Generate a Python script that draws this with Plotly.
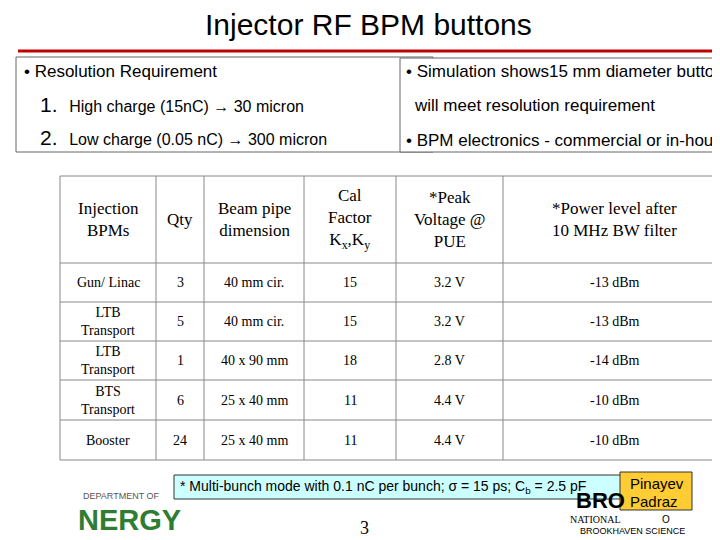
import plotly.graph_objects as go

headers = ["Injection<br>BPMs", "Qty", "Beam pipe<br>dimension", "Cal<br>Factor<br>K<sub>x</sub>,K<sub>y</sub>",
           "*Peak<br>Voltage @<br>PUE", "*Power level after<br>10 MHz BW filter"]
bpms = ["Gun/ Linac", "LTB<br>Transport", "LTB<br>Transport", "BTS<br>Transport", "Booster"]
qty = ["3", "5", "1", "6", "24"]
pipe = ["40 mm cir.", "40 mm cir.", "40 x 90 mm", "25 x 40 mm", "25 x 40 mm"]
cal = ["15", "15", "18", "11", "11"]
peak = ["3.2 V", "3.2 V", "2.8 V", "4.4 V", "4.4 V"]
power = ["-13 dBm", "-13 dBm", "-14 dBm", "-10 dBm", "-10 dBm"]

W, H = 720, 540
OFF = 8
def px(x): return x / W
def py(y): return 1 - (y - OFF) / H

colx = [52, 148, 196, 296, 388, 495, 718]
rowy = [176, 263, 302, 341, 380, 420, 460]
columns = [bpms, qty, pipe, cal, peak, power]

shapes = [
    dict(type="line", xref="paper", yref="paper", x0=px(10), x1=px(712), y0=py(51), y1=py(51),
         line=dict(color="#c00000", width=3)),
    dict(type="rect", xref="paper", yref="paper", x0=px(8), x1=px(425), y0=py(152), y1=py(57),
         line=dict(color="#666", width=1), fillcolor="white"),
    dict(type="rect", xref="paper", yref="paper", x0=px(392), x1=px(730), y0=py(152), y1=py(58),
         line=dict(color="#666", width=1), fillcolor="white"),
    dict(type="rect", xref="paper", yref="paper", x0=px(166), x1=px(614), y0=py(499), y1=py(475),
         line=dict(color="#333", width=1), fillcolor="#ccffff"),
    dict(type="rect", xref="paper", yref="paper", x0=px(612), x1=px(684), y0=py(510), y1=py(472),
         line=dict(color="#333", width=1), fillcolor="#ffcc33"),
]
for x in colx:
    shapes.append(dict(type="line", xref="paper", yref="paper", x0=px(x), x1=px(x),
                       y0=py(rowy[0]), y1=py(rowy[-1]), line=dict(color="#888", width=1)))
for y in rowy:
    shapes.append(dict(type="line", xref="paper", yref="paper", x0=px(colx[0]), x1=px(colx[-1]),
                       y0=py(y), y1=py(y), line=dict(color="#888", width=1)))

ann = []
def t(x, y, s, size, xa="left", fam="Liberation Sans", color="black"):
    ann.append(dict(x=px(x), y=py(y), xref="paper", yref="paper", text=s, showarrow=False,
                    xanchor=xa, yanchor="middle", align="center",
                    font=dict(family=fam, size=size, color=color)))

for i, h in enumerate(headers):
    t((colx[i] + colx[i + 1]) / 2, (rowy[0] + rowy[1]) / 2, h, 17, "center", fam="Liberation Serif")
for i, col in enumerate(columns):
    for j, v in enumerate(col):
        t((colx[i] + colx[i + 1]) / 2, (rowy[j + 1] + rowy[j + 2]) / 2, v, 14, "center",
          fam="Liberation Serif")

t(360, 24, "Injector RF BPM buttons", 30, "center")
t(14, 71, "• Resolution Requirement", 17)
t(30, 104, "1.  <span style='font-size:16px'>High charge (15nC) → 30 micron</span>", 21)
t(30, 138, "2.  <span style='font-size:16px'>Low charge (0.05 nC) → 300 micron</span>", 21)
t(396, 72, "• Simulation shows15 mm diameter buttons", 17)
t(404, 106, "will meet resolution requirement", 17)
t(396, 140, "• BPM electronics - commercial or in-house", 17)
t(170, 487, "* Multi-bunch mode with 0.1 nC per bunch; σ = 15 ps; C<sub>b</sub> = 2.5 pF", 14)
t(620, 483, "Pinayev", 15)
t(620, 501, "Padraz", 15)
t(73, 496, "DEPARTMENT OF", 9, color="#555")
t(68, 520, "<b>NERGY</b>", 29, color="#2e7d32")
t(356, 528, "3", 18, "center", fam="Liberation Serif")
t(566, 500, "<b>BRO</b>", 22)
t(560, 519, "NATIONAL", 10, fam="Liberation Serif")
t(652, 519, "O", 10)
t(570, 531, "BROOKHAVEN SCIENCE", 9)
fig = go.Figure()
fig.update_xaxes(visible=False)
fig.update_yaxes(visible=False)
fig.update_layout(width=W, height=H, margin=dict(l=0, r=0, t=0, b=0), paper_bgcolor="white",
                  plot_bgcolor="white", shapes=shapes, annotations=ann)
fig.write_html("out.html")
